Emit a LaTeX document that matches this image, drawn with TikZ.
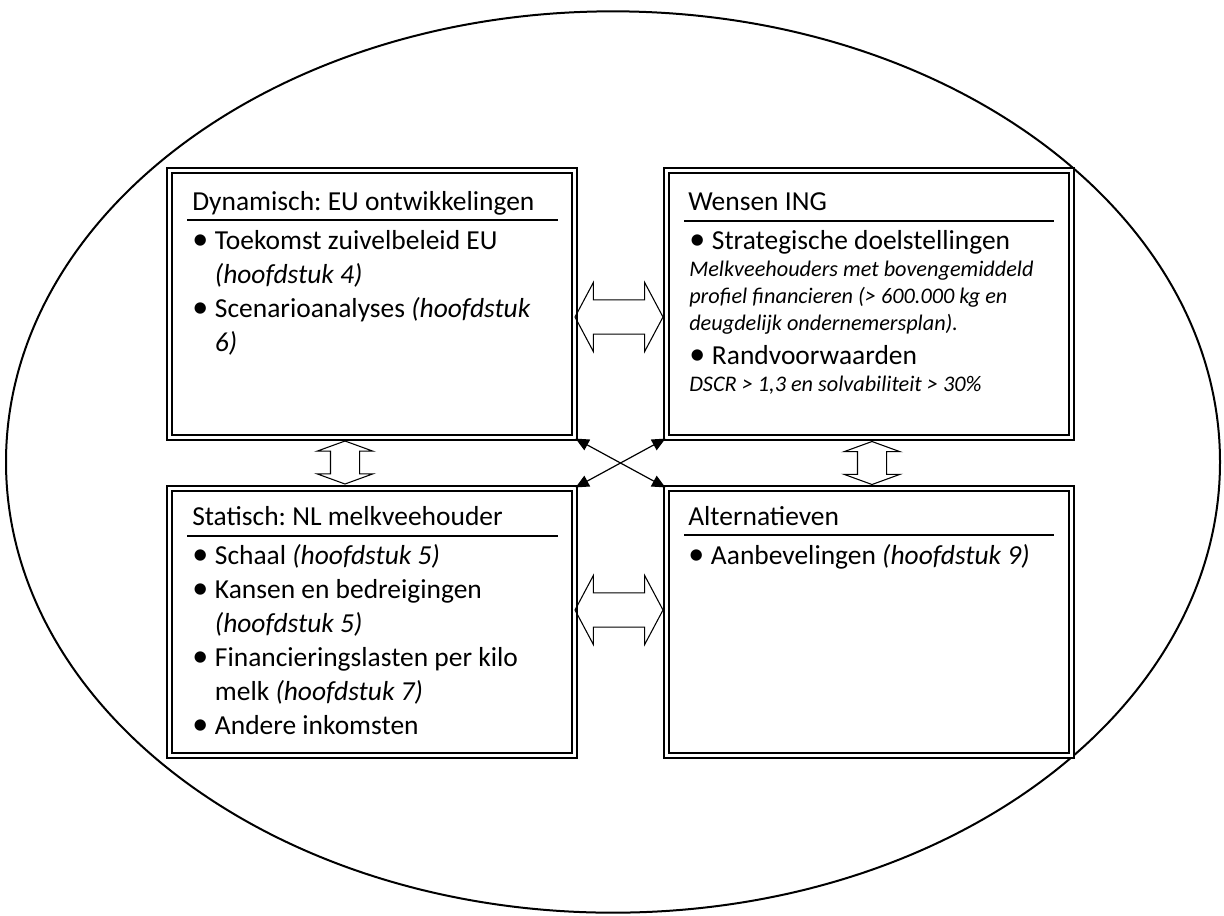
\documentclass[tikz,border=0pt]{standalone}
\usepackage{fontspec}
\setmainfont{Carlito}
\usetikzlibrary{arrows.meta,shapes.arrows}

\newcommand{\punt}[1]{\par\hangindent=17pt\hangafter=1\noindent\makebox[17pt][l]{\raisebox{-0.6pt}{\fontsize{24}{25.5}\selectfont\textbullet}}#1}
\newcommand{\klein}{\fontsize{16.7}{20.25}\selectfont}
\frenchspacing

\tikzset{
  kader/.style={draw, line width=1.6pt, double, double distance=1.8pt,
    minimum width=303.75pt, minimum height=200.25pt, inner sep=0},
  kop/.style={anchor=base west, inner sep=0},
  lijst/.style={anchor=base west, inner sep=0},
  regel/.style={line width=1.5pt},
  hpijl/.style={draw, double arrow, line width=0.8pt, inner xsep=0, inner ysep=12.4pt,
    minimum height=66pt,
    double arrow head extend=13.1pt, double arrow tip angle=124},
  vpijl/.style={draw, double arrow, line width=0.8pt, inner xsep=0, inner ysep=10.5pt, rotate=90,
    minimum height=32.25pt,
    double arrow head extend=10.1pt, double arrow tip angle=140},
  kruis/.style={{Triangle[length=10pt,width=9pt]}-{Triangle[length=10pt,width=9pt]}, line width=0.9pt}
}

\begin{document}
\begin{tikzpicture}[x=0.75pt, y=-0.75pt, font=\fontsize{20.6}{25.5}\selectfont]
\useasboundingbox (0,0) rectangle (1224,915);
\draw[line width=1.5pt] (613,462) ellipse [x radius=455.25pt, y radius=338pt];

% de vier kaders
\node[kader] (dyn) at (372,304) {};
\node[kader] (wens) at (869,304) {};
\node[kader] (stat) at (372,622) {};
\node[kader] (alt) at (869,622) {};

% koppen
\node[kop] (dynkop) at (192,210) {Dynamisch: EU ontwikkelingen};
\node[kop] (wenskop) at (688,210) {Wensen ING};
\node[kop] (statkop) at (192,525) {Statisch: NL melkveehouder};
\node[kop] (altkop) at (688,525) {Alternatieven};
\draw[regel] (187,220) -- (558,220);
\draw[regel] (684,221) -- (1054,221);
\draw[regel] (187,536) -- (558,536);
\draw[regel] (684,535) -- (1054,535);

% inhoud
\node[lijst] (dynlijst) at (192,249) {\parbox[t]{290pt}{\raggedright
  \punt{Toekomst zuivelbeleid EU\newline\textit{(hoofdstuk 4)}}
  \punt{Scenarioanalyses \textit{(hoofdstuk\newline 6)}}}};
\node[lijst] (wenslijst) at (689,249) {\parbox[t]{290pt}{\raggedright
  \punt{Strategische doelstellingen}\par
  {\klein\itshape\noindent Melkveehouders met bovengemiddeld\newline
  profiel financieren (> 600.000 kg en\newline
  deugdelijk ondernemersplan).\par}
  \punt{Randvoorwaarden}\par
  {\klein\itshape\noindent DSCR > 1,3 en solvabiliteit > 30\%\par}}};
\node[lijst] (statlijst) at (192,564) {\parbox[t]{290pt}{\raggedright
  \punt{Schaal \textit{(hoofdstuk 5)}}
  \punt{Kansen en bedreigingen\newline\textit{(hoofdstuk 5)}}
  \punt{Financieringslasten per kilo\newline melk \textit{(hoofdstuk 7)}}
  \punt{Andere inkomsten}}};
\node[lijst] (altlijst) at (688,564) {\parbox[t]{290pt}{\raggedright
  \punt{Aanbevelingen \textit{(hoofdstuk 9)}}}};

% blokpijlen
\node[hpijl] (pijlboven) at (619,317) {};
\node[hpijl] (pijlonder) at (619,610) {};
\node[vpijl] (pijllinks) at (345,462.5) {};
\node[vpijl] (pijlrechts) at (872,463) {};

% kruisende pijlen
\draw[kruis] (dyn.south east) -- (alt.north west);
\draw[kruis] (wens.south west) -- (stat.north east);
\end{tikzpicture}
\end{document}
